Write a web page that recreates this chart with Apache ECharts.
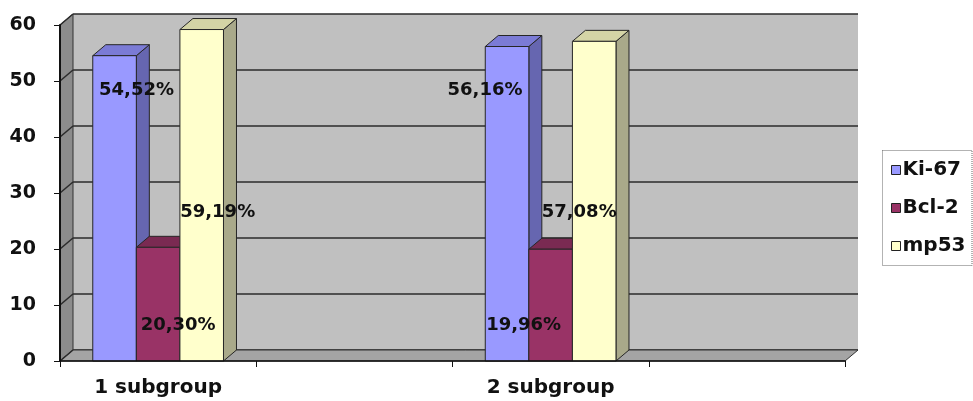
<!DOCTYPE html>
<html>
<head>
<meta charset="utf-8">
<script src="https://cdn.jsdelivr.net/npm/echarts@6/dist/echarts.min.js"></script>
<style>
html,body{margin:0;padding:0;background:#fff;}
#main{width:973px;height:401px;}
</style>
</head>
<body>
<div id="main"></div>
<script>
// data
var categories = ['1 subgroup', '', '2 subgroup', ''];
var seriesNames = ['Ki-67', 'Bcl-2', 'mp53'];
var ki67 = [54.52, null, 56.16, null];
var bcl2 = [20.30, null, 19.96, null];
var mp53 = [59.19, null, 57.08, null];
var yTicks = [0, 10, 20, 30, 40, 50, 60];

// front, top, side colour of each column
var faces = [
	['#9999ff', '#7b7bd6', '#6666b0'],
	['#993366', '#7a2a52', '#6e2447'],
	['#ffffcc', '#d4d4a6', '#a9a98a']
];
// labels sit where the author dragged them: height on the axis + x shift from column centre
var labelSpots = [
	{level: 48.4, dx: [22, 0, -22, 0]},
	{level: 6.4, dx: [20, 0, -27, 0]},
	{level: 26.6, dx: [16, 0, -15, 0]}
];
var DX = 13, DY = -11; // depth of the fake 3d
var BAR = 0.222;       // column width as part of a category
var FONT = '"DejaVu Sans", Arial, sans-serif';

function pairs(values) {
	return values.map(function (v, i) { return [i, v]; })
		.filter(function (d) { return d[1] != null; });
}
function fmt(v) {
	return v.toFixed(2).replace('.', ',') + '%';
}
function barBox(api, idx) {
	var c = api.value(0);
	var p0 = api.coord([c, 0]);
	var p1 = api.coord([c, api.value(1)]);
	var w = api.size([1, 0])[0] * BAR;
	var left = p0[0] - w * 1.5 + idx * w;
	return {left: left, right: left + w, top: p1[1], bottom: p0[1], w: w};
}

function makeBar(idx, values) {
	var col = faces[idx];
	return {
		name: seriesNames[idx],
		type: 'custom',
		z: 2,
		xAxisIndex: 0, yAxisIndex: 0,
		itemStyle: {color: col[0]},
		encode: {x: 0, y: 1},
		data: pairs(values),
		renderItem: function (params, api) {
			var b = barBox(api, idx);
			var edge = {stroke: '#262626', lineWidth: 1};
			return {
				type: 'group',
				children: [
					{type: 'polygon', shape: {points: [[b.right, b.bottom], [b.right + DX, b.bottom + DY], [b.right + DX, b.top + DY], [b.right, b.top]]},
						style: {fill: col[2], stroke: edge.stroke, lineWidth: edge.lineWidth}},
					{type: 'polygon', shape: {points: [[b.left, b.top], [b.left + DX, b.top + DY], [b.right + DX, b.top + DY], [b.right, b.top]]},
						style: {fill: col[1], stroke: edge.stroke, lineWidth: edge.lineWidth}},
					{type: 'rect', shape: {x: b.left, y: b.top, width: b.w, height: b.bottom - b.top},
						style: {fill: col[0], stroke: edge.stroke, lineWidth: edge.lineWidth}}
				]
			};
		}
	};
}

function makeLabels(idx, values) {
	return {
		type: 'custom',
		z: 6,
		silent: true,
		xAxisIndex: 0, yAxisIndex: 0,
		encode: {x: 0, y: 1},
		data: pairs(values),
		renderItem: function (params, api) {
			var b = barBox(api, idx);
			var c = api.value(0);
			var y = api.coord([c, labelSpots[idx].level])[1];
			return {
				type: 'text',
				x: (b.left + b.right) / 2 + labelSpots[idx].dx[c],
				y: y,
				style: {text: fmt(api.value(1)), fill: '#111', font: 'bold 18px ' + FONT, align: 'center', verticalAlign: 'middle'}
			};
		}
	};
}

// left wall, floor and the wall grid lines
var walls = {
	type: 'custom',
	z: 1,
	silent: true,
	xAxisIndex: 0, yAxisIndex: 0,
	encode: {x: 0, y: 1},
	data: [[0, 0]],
	renderItem: function (params, api) {
		var cs = params.coordSys;
		var x0 = cs.x, x1 = cs.x + cs.width, top = cs.y, bot = cs.y + cs.height;
		var kids = [
			{type: 'polygon', shape: {points: [[x0, top], [x0 + DX, top + DY], [x0 + DX, bot + DY], [x0, bot]]},
				style: {fill: '#8c8c8c', stroke: '#333', lineWidth: 1}},
			{type: 'polygon', shape: {points: [[x0, bot], [x1, bot], [x1 + DX, bot + DY], [x0 + DX, bot + DY]]},
				style: {fill: '#a4a4a4', stroke: '#333', lineWidth: 1}}
		];
		yTicks.forEach(function (t) {
			var y = api.coord([0, t])[1];
			kids.push({type: 'line', shape: {x1: x0, y1: y, x2: x0 + DX, y2: y + DY}, style: {stroke: '#2b2b2b', lineWidth: 1.5}});
		});
		return {type: 'group', children: kids};
	}
};

var myChart = echarts.init(document.getElementById('main'));
var option = {
	backgroundColor: '#fff',
	animation: false,
	grid: [
		{left: 60, right: 128, top: 25, bottom: 40},
		{left: 73, right: 115, top: 14, bottom: 51, show: true, backgroundColor: '#c0c0c0', borderWidth: 0}
	],
	legend: {
		data: seriesNames,
		orient: 'vertical',
		left: 891,
		top: 160,
		padding: 0,
		icon: 'rect',
		itemWidth: 9,
		itemHeight: 9,
		itemGap: 18,
		itemStyle: {borderColor: '#222', borderWidth: 1},
		textStyle: {fontFamily: FONT, fontWeight: 'bold', fontSize: 20, color: '#111', lineHeight: 20, padding: [0, 0, 0, -3]}
	},
	graphic: [{
		type: 'rect', z: 0, silent: true,
		shape: {x: 882.5, y: 150.5, width: 89.5, height: 115},
		style: {fill: '#fff', stroke: '#666', lineWidth: 1, lineDash: [1, 1]}
	}],
	xAxis: [
		{
			type: 'category', gridIndex: 0, data: categories, z: 5,
			axisLine: {lineStyle: {color: '#111', width: 1.5}},
			axisTick: {show: true, interval: 0, length: 6, lineStyle: {color: '#111'}},
			axisLabel: {interval: 0, margin: 17, color: '#111', fontFamily: FONT, fontWeight: 'bold', fontSize: 20}
		},
		{type: 'category', gridIndex: 1, data: categories, show: false}
	],
	yAxis: [
		{
			type: 'value', gridIndex: 0, min: 0, max: 60, interval: 10, z: 5,
			axisLine: {show: true, lineStyle: {color: '#111', width: 2}},
			axisTick: {show: true, length: 6, lineStyle: {color: '#111'}},
			splitLine: {show: false},
			axisLabel: {margin: 24, color: '#111', fontFamily: FONT, fontWeight: 'bold', fontSize: 19}
		},
		{
			type: 'value', gridIndex: 1, min: 0, max: 60, interval: 10,
			axisLine: {show: false}, axisTick: {show: false}, axisLabel: {show: false},
			splitLine: {show: true, lineStyle: {color: '#2b2b2b', width: 1.5}}
		}
	],
	series: [
		walls,
		makeBar(0, ki67),
		makeBar(1, bcl2),
		makeBar(2, mp53),
		makeLabels(0, ki67),
		makeLabels(1, bcl2),
		makeLabels(2, mp53)
	]
};
myChart.setOption(option);
</script>
</body>
</html>
